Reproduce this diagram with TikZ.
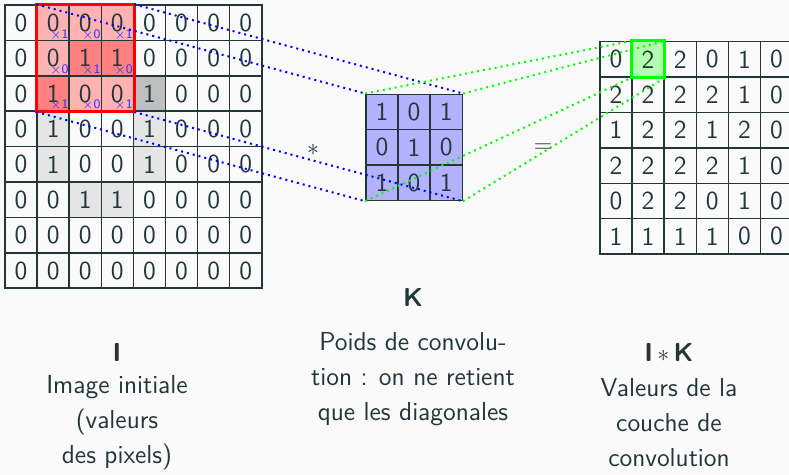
\documentclass[tikz,border=0pt]{standalone}
\usetikzlibrary{backgrounds}
\definecolor{fgcol}{RGB}{35,55,59}
\definecolor{bgcol}{RGB}{250,250,250}
\tikzset{
  cell/.style={draw=fgcol,line width=0.75pt,minimum width=16.05pt,minimum height=17.7pt,inner sep=0pt},
  weight/.style={text=blue!80,font=\sffamily\fontsize{6.5}{7}\selectfont,inner sep=0.5pt,anchor=south east},
  proj/.style={dotted,line width=1pt},
  caption/.style={align=center}
}

\begin{document}
\begin{tikzpicture}[x=0.5pt,y=-0.5pt,text=fgcol,font=\sffamily\fontsize{13}{17.5}\selectfont]
  \useasboundingbox (0,0) rectangle (789,475);
  % image I
  \foreach \row [count=\i from 0] in {{0,0,0,0,0,0,0,0},{0,0,1,1,0,0,0,0},{0,1,0,0,1,0,0,0},{0,1,0,0,1,0,0,0},
      {0,1,0,0,1,0,0,0},{0,0,1,1,0,0,0,0},{0,0,0,0,0,0,0,0},{0,0,0,0,0,0,0,0}}
    \foreach \v [count=\j from 0] in \row
      \node[cell] (I-\i-\j) at ({21.05+32.1*\j},{22.7+35.4*\i}) {\v};
  % kernel K, and its weights written in the window of I
  \foreach \row [count=\i from 0] in {{1,0,1},{0,1,0},{1,0,1}}
    \foreach \v [count=\j from 0] in \row {
      \node[cell] (K-\i-\j) at ({382+32.1*\j},{112+35.4*\i}) {\v};
      \pgfmathtruncatemacro{\jj}{\j+1}
      \node[weight] (w-\i-\j) at (I-\i-\jj.south east) {$\times$\v};
    }
  % result I*K
  \foreach \row [count=\i from 0] in {{0,2,2,0,1,0},{2,2,2,2,1,0},{1,2,2,1,2,0},{2,2,2,2,1,0},{0,2,2,0,1,0},{1,1,1,1,0,0}}
    \foreach \v [count=\j from 0] in \row
      \node[cell] (O-\i-\j) at ({616+32.1*\j},{59.4+35.4*\i}) {\v};
  % fills
  \begin{scope}[on background layer]
    \fill[bgcol] (0,0) rectangle (789,475);
    \foreach \c in {I-0-1,I-0-2,I-0-3,I-1-1,I-2-2,I-2-3}
      \fill[red!30] (\c.north west) rectangle (\c.south east);
    \foreach \c in {I-1-2,I-1-3,I-2-1}
      \fill[red!50] (\c.north west) rectangle (\c.south east);
    \fill[gray!50] (I-2-4.north west) rectangle (I-2-4.south east);
    \foreach \c in {I-3-1,I-3-4,I-4-1,I-4-4,I-5-2,I-5-3}
      \fill[gray!20] (\c.north west) rectangle (\c.south east);
    \fill[blue!30] (K-0-0.north west) rectangle (K-2-2.south east);
    \fill[green!30] (O-0-1.north west) rectangle (O-0-1.south east);
  \end{scope}
  \draw[red,line width=1.5pt] (I-0-1.north west) rectangle (I-2-3.south east);
  \draw[green,line width=1.5pt] (O-0-1.north west) rectangle (O-0-1.south east);
  % projections
  \draw[proj,blue] (I-0-1.north west) -- (K-0-0.north west);
  \draw[proj,blue] (I-0-3.north east) -- (K-0-2.north east);
  \draw[proj,blue] (I-2-1.south west) -- (K-2-0.south west);
  \draw[proj,blue] (I-2-3.south east) -- (K-2-2.south east);
  \draw[proj,green] (K-0-0.north west) -- (O-0-1.north west);
  \draw[proj,green] (K-0-2.north east) -- (O-0-1.north east);
  \draw[proj,green] (K-2-0.south west) -- (O-0-1.south west);
  \draw[proj,green] (K-2-2.south east) -- (O-0-1.south east);
  % operators
  \node (star) at (313,150) {$*$};
  \node (eq) at (543,148) {$=$};
  % captions
  \node (tI) at (117,352) {\textbf{I}};
  \node[caption] (dI) at (117,423) {Image initiale\\(valeurs\\des pixels)};
  \node (tK) at (413,297) {\textbf{K}};
  \node[caption] (dK) at (413,379) {Poids de convolu-\\tion : on ne retient\\que les diagonales};
  \node (tIK) at (669,352) {\textbf{I}\,$*$\,\textbf{K}};
  \node[caption] (dIK) at (669,423) {Valeurs de la\\couche de\\convolution};
\end{tikzpicture}
\end{document}
